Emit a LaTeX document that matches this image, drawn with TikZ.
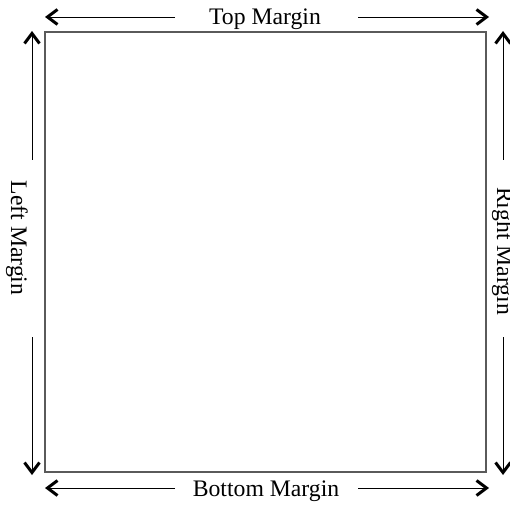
\documentclass[tikz,border=0pt]{standalone}
\usepackage{fontspec}
\setmainfont{Liberation Serif}
\usetikzlibrary{arrows.meta}
\definecolor{boxgray}{HTML}{5A5A5A}
\tikzset{
  x=1pt, y=1pt,
  marginarrow/.style={line width=0.9pt, draw=black,
    -{Straight Barb[line width=3pt, length=10pt, width=15pt]}},
  marginlabel/.style={inner sep=0pt, anchor=base,
    font=\fontsize{23.7}{28}\selectfont},
  pagebox/.style={draw=boxgray, line width=1.3pt}
}
\begin{document}
\begin{tikzpicture}
\useasboundingbox (0,0) rectangle (510,504);
% page box
\draw[pagebox] (45,32) rectangle (486,472);
% coordinates
\coordinate (tl0) at (175,487); \coordinate (tl1) at (45,487);
\coordinate (tr0) at (358,487); \coordinate (tr1) at (489,487);
\coordinate (bl0) at (175,16);  \coordinate (bl1) at (45,16);
\coordinate (br0) at (358,16);  \coordinate (br1) at (489,16);
\coordinate (lu0) at (32,344);  \coordinate (lu1) at (32,473);
\coordinate (ld0) at (32,167);  \coordinate (ld1) at (32,29);
\coordinate (ru0) at (503,344); \coordinate (ru1) at (503,473);
\coordinate (rd0) at (503,167); \coordinate (rd1) at (503,29);
% labels
\node[marginlabel] (top) at (265,479) {Top Margin};
\node[marginlabel] (bottom) at (266,8) {Bottom Margin};
\node[marginlabel, rotate=-90] (left) at (11,266) {Left Margin};
\node[marginlabel, rotate=-90] (right) at (497,253) {Right Margin};
% arrows
\draw[marginarrow] (tl0) -- (tl1);
\draw[marginarrow] (tr0) -- (tr1);
\draw[marginarrow] (bl0) -- (bl1);
\draw[marginarrow] (br0) -- (br1);
\draw[marginarrow] (lu0) -- (lu1);
\draw[marginarrow] (ld0) -- (ld1);
\draw[marginarrow] (ru0) -- (ru1);
\draw[marginarrow] (rd0) -- (rd1);
\end{tikzpicture}
\end{document}
